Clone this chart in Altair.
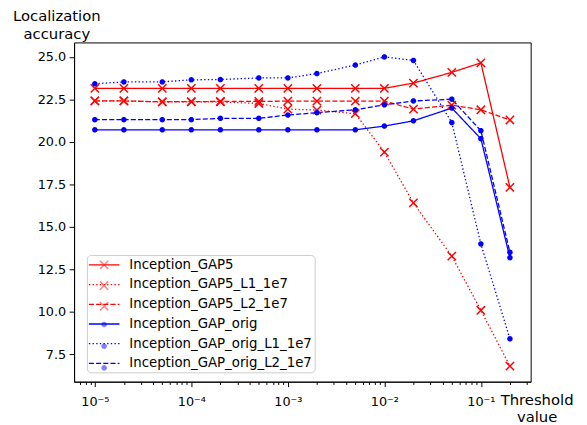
import math
import altair as alt
import pandas as pd

# ---- data ----
THRESHOLDS = [1e-5, 2e-5, 5e-5, 1e-4, 2e-4, 5e-4, 1e-3, 2e-3, 5e-3, 1e-2, 2e-2, 5e-2, 1e-1, 2e-1]
SERIES = ["Inception_GAP5", "Inception_GAP5_L1_1e7", "Inception_GAP5_L2_1e7",
          "Inception_GAP_orig", "Inception_GAP_orig_L1_1e7", "Inception_GAP_orig_L2_1e7"]
GAP5 = [23.15, 23.15, 23.15, 23.15, 23.15, 23.15, 23.15, 23.15, 23.15, 23.15, 23.46, 24.09, 24.65, 17.33]
GAP5_L1 = [22.41, 22.41, 22.35, 22.35, 22.35, 22.26, 21.93, 21.87, 21.66, 19.40, 16.41, 13.28, 10.10, 6.82]
GAP5_L2 = [22.41, 22.41, 22.36, 22.37, 22.38, 22.38, 22.40, 22.40, 22.40, 22.40, 21.93, 22.16, 21.89, 21.29]
ORIG = [20.71, 20.71, 20.71, 20.71, 20.71, 20.71, 20.71, 20.71, 20.71, 20.93, 21.24, 21.99, 20.19, 13.19]
ORIG_L1 = [23.42, 23.53, 23.53, 23.65, 23.67, 23.76, 23.76, 24.02, 24.52, 25.00, 24.79, 21.14, 14.00, 8.42]
ORIG_L2 = [21.31, 21.31, 21.31, 21.31, 21.39, 21.39, 21.58, 21.72, 21.89, 22.18, 22.41, 22.51, 20.66, 13.51]
VALUES = [GAP5, GAP5_L1, GAP5_L2, ORIG, ORIG_L1, ORIG_L2]
MARKER = ["x", "x", "x", "dot", "dot", "dot"]

Y_TICKS = [7.5, 10.0, 12.5, 15.0, 17.5, 20.0, 22.5, 25.0]
X_MAJOR = [1e-5, 1e-4, 1e-3, 1e-2, 1e-1]
X_MAJOR_LABELS = ["10⁻⁵", "10⁻⁴", "10⁻³", "10⁻²", "10⁻¹"]

# ---- styles ----
COLORS = ["#ff0000", "#ff0000", "#ff0000", "#0000ff", "#0000ff", "#0000ff"]
DASHES = [[1, 0], [1.4, 2.3], [5.1, 2.2], [1, 0], [1.4, 2.3], [5.1, 2.2]]
SYM = 196  # symbol size -> path unit = 7 px
R, A = 0.6, 0.075
BOUNDS = f"M{-(R+A)},{-(R+A)}M{R+A},{R+A}"  # moves only: same bounds for every marker


def x_marker(r, a):
    return (f"M{-r+a:.3f},{-r-a:.3f}L{r+a:.3f},{r-a:.3f}L{r-a:.3f},{r+a:.3f}L{-r-a:.3f},{-r+a:.3f}Z"
            f"M{-r-a:.3f},{r-a:.3f}L{r-a:.3f},{-r-a:.3f}L{r+a:.3f},{-r+a:.3f}L{-r+a:.3f},{r+a:.3f}Z")


def dot_marker(d, cy=0.0):
    return "M" + "L".join(
        f"{d*math.cos(2*math.pi*k/20):.3f},{cy + d*math.sin(2*math.pi*k/20):.3f}" for k in range(20)
    ) + "Z"


X_PATH = x_marker(R, A)
DOT_PATH = dot_marker(0.4)
# legend-only marker shapes (dot nudged up to sit on the legend line)
LEG_X = BOUNDS + X_PATH
LEG_DOT = BOUNDS + dot_marker(0.4, -0.5)
LEG_SHAPES = [LEG_X, LEG_X, LEG_X, LEG_DOT, LEG_DOT, LEG_DOT]
LINE_SYMBOL = "M-1.14,0L3.29,0"

rows = []
for s, mk, vals in zip(SERIES, MARKER, VALUES):
    for x, y in zip(THRESHOLDS, vals):
        rows.append({"series": s, "marker": mk, "x": x, "y": y})
df = pd.DataFrame(rows)

# minor + major ticks for the log axis
x_lo, x_hi = 10 ** -5.215, 10 ** -0.484
ticks = []
for dd in range(-6, 0):
    for m in range(1, 10):
        v = float(f"{m}e{dd}")
        if x_lo <= v <= x_hi:
            ticks.append(v)
label_expr = " : ".join(
    [f"datum.value == {v} ? '{l}'" for v, l in zip(X_MAJOR, X_MAJOR_LABELS)]
) + " : ''"
major_test = " || ".join([f"datum.value == {v}" for v in X_MAJOR])

xscale = alt.Scale(type="log", domain=[x_lo, x_hi], nice=False)
yscale = alt.Scale(domain=[5.9, 25.85], nice=False, zero=False)

FONT = "DejaVu Sans"

x_enc = alt.X("x:Q", scale=xscale, axis=alt.Axis(
    values=ticks, labelExpr=label_expr, labelOverlap=False, labelFlush=False,
    tickSize={"condition": {"test": major_test, "value": 5}, "value": 2.8},
    title=["Threshold", "value"], titleAngle=0, titleAlign="center",
    titleBaseline="top", titleX=469, titleY=11, titleLineHeight=17,
    labelPadding=9))
y_enc = alt.Y("y:Q", scale=yscale, axis=alt.Axis(
    values=Y_TICKS, format=".1f", tickSize=5, labelPadding=3.5,
    title=["Localization", "accuracy"], titleAngle=0, titleAlign="center",
    titleBaseline="top", titleX=-18, titleY=-34, titleLineHeight=18))

color_scale = alt.Scale(domain=SERIES, range=COLORS)

LX, LY = 13, 215.5
common_legend = dict(orient="none", title=None, labelFont=FONT, labelFontSize=13.5,
                     labelColor="black", padding=2, rowPadding=5, labelLimit=400,
                     symbolSize=SYM, legendY=LY,
                     labelExpr="datum.label + '\u00a0'")

lines = alt.Chart(df).mark_line(strokeWidth=1.3).encode(
    x=x_enc, y=y_enc,
    color=alt.Color("series:N", sort=SERIES, scale=color_scale,
                    legend=alt.Legend(legendX=LX, symbolType=LINE_SYMBOL,
                                      symbolStrokeWidth=1.3, labelOffset=25,
                                      fillColor="rgba(255,255,255,0.8)",
                                      strokeColor="#cccccc", cornerRadius=4,
                                      **common_legend)),
    strokeDash=alt.StrokeDash("series:N", sort=SERIES,
                              scale=alt.Scale(domain=SERIES, range=DASHES)),
)

x_points = alt.Chart(df).transform_filter(alt.datum.marker == "x").mark_point(
    filled=True, opacity=1, size=SYM, shape=X_PATH).encode(
    x=x_enc, y=y_enc,
    color=alt.Color("series:N", sort=SERIES, scale=color_scale, legend=None),
)
dot_points = alt.Chart(df).transform_filter(alt.datum.marker == "dot").mark_point(
    filled=True, opacity=1, size=SYM, shape=DOT_PATH).encode(
    x=x_enc, y=y_enc,
    color=alt.Color("series:N", sort=SERIES, scale=color_scale, legend=None),
)

# layer with no marks of its own: it only carries the marker legend drawn over the line legend
legend_markers = alt.Chart(df).transform_filter("false").mark_point(
    filled=True, size=SYM).encode(
    x=x_enc, y=y_enc,
    color=alt.Color("series:N", sort=SERIES, scale=color_scale,
                    legend=alt.Legend(legendX=LX + 7.5, symbolOpacity=1,
                                      symbolStrokeWidth=1.3,
                                      labelOpacity=0, labelOffset=25,
                                      **common_legend)),
    shape=alt.Shape("series:N", sort=SERIES,
                    scale=alt.Scale(domain=SERIES, range=LEG_SHAPES)),
)

chart = alt.layer(lines, x_points, dot_points, legend_markers).resolve_legend(
    color="independent", strokeDash="independent", shape="independent"
).properties(
    width=463, height=344,
    background="white",
    autosize=alt.AutoSizeParams(type="none"),
    padding={"left": 67, "top": 32, "right": 49, "bottom": 41},
).configure_view(stroke="black", strokeWidth=1).configure_axis(
    grid=False, domainColor="black", tickColor="black", labelColor="black",
    labelFont=FONT, labelFontSize=13, titleFont=FONT, titleFontSize=15,
    titleFontWeight="normal", titleColor="black", domainWidth=1, tickWidth=1,
)

chart.save("out.html", embed_options={"renderer": "svg", "actions": False})
